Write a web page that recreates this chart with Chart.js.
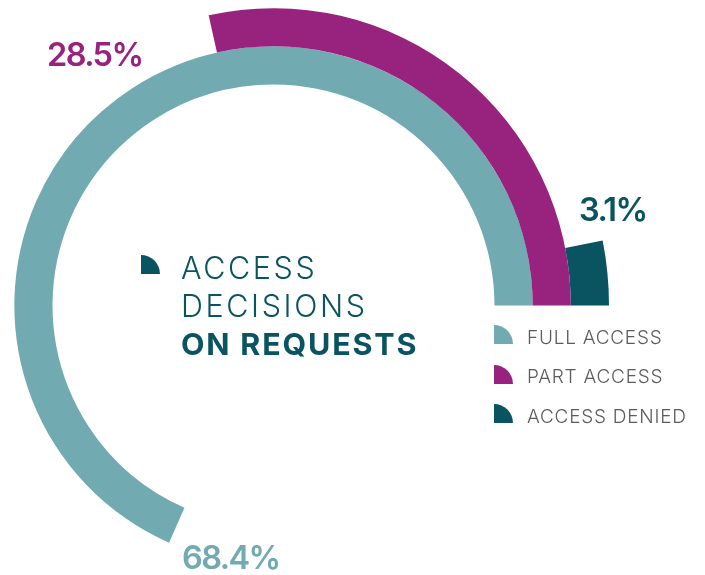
<!DOCTYPE html>
<html>
<head>
<meta charset="utf-8">
<script src="https://cdn.jsdelivr.net/npm/chart.js@4"></script>
<style>
  body { margin: 0; background: #fff; font-family: Inter, "Noto Sans", sans-serif; }
  #wrap { position: relative; width: 705px; height: 575px; overflow: hidden; }
  #wrap canvas { position: absolute; left: 0; top: 0; }
  .val { position: absolute; font-size: 32.5px; line-height: 33px; font-weight: 600; letter-spacing: -1.6px; white-space: nowrap; }
  .quarter { position: absolute; width: 19px; height: 19px; border-top-right-radius: 100%; }
  #title { position: absolute; left: 181px; top: 249px; font-size: 30.5px; line-height: 38px; color: #0a5360; font-weight: 300; letter-spacing: 2.6px; }
  #title b { font-weight: 700; letter-spacing: 1.8px; }
  .leg { position: absolute; left: 527px; font-size: 19px; line-height: 19px; color: #5c5c5c; font-weight: 300; letter-spacing: 0.75px; white-space: nowrap; }
</style>
</head>
<body>
<div id="wrap">
  <canvas id="ring" width="705" height="575"></canvas>
  <div class="quarter" style="left:141px;top:255px;background:#0a5360"></div>
  <div id="title">ACCESS<br>DECISIONS<br><b>ON REQUESTS</b></div>
</div>
<script>
// Data
const categories = ['FULL ACCESS', 'PART ACCESS', 'ACCESS DENIED'];
const values = [68.4, 28.5, 3.1];
const colors = ['#71abb1', '#98237f', '#0a5360'];

// where the value labels sit (left, top)
const labelPos = [[182, 541], [47, 38], [579, 193]];

const wrap = document.getElementById('wrap');

// Value labels + legend
categories.forEach((c, i) => {
  const v = document.createElement('div');
  v.className = 'val';
  v.style.left = labelPos[i][0] + 'px';
  v.style.top = labelPos[i][1] + 'px';
  v.style.color = colors[i];
  v.innerText = values[i].toFixed(1) + '%';
  wrap.appendChild(v);

  const icon = document.createElement('div');
  icon.className = 'quarter';
  icon.style.left = '494px';
  icon.style.top = (325 + i * 39.5) + 'px';
  icon.style.background = colors[i];
  wrap.appendChild(icon);

  const t = document.createElement('div');
  t.className = 'leg';
  t.style.top = (327.5 + i * 39.5) + 'px';
  t.innerText = c;
  wrap.appendChild(t);
});

// Rings: outermost dataset first, so reverse order
const datasets = categories.map((c, i) => ({
  label: c,
  data: [100 - values[i], values[i]],
  backgroundColor: ['rgba(0,0,0,0)', colors[i]],
  borderWidth: 0
})).reverse();

new Chart(document.getElementById('ring'), {
  type: 'doughnut',
  data: {
    labels: ['rest', 'value'],
    datasets: datasets
  },
  options: {
    responsive: false,
    animation: false,
    events: [],
    rotation: 90,
    radius: 335.5,
    cutout: '65.87%',
    layout: { padding: { left: 0, right: 158, top: 36, bottom: 0 } },
    plugins: { legend: { display: false }, tooltip: { enabled: false } }
  }
});
</script>
</body>
</html>
